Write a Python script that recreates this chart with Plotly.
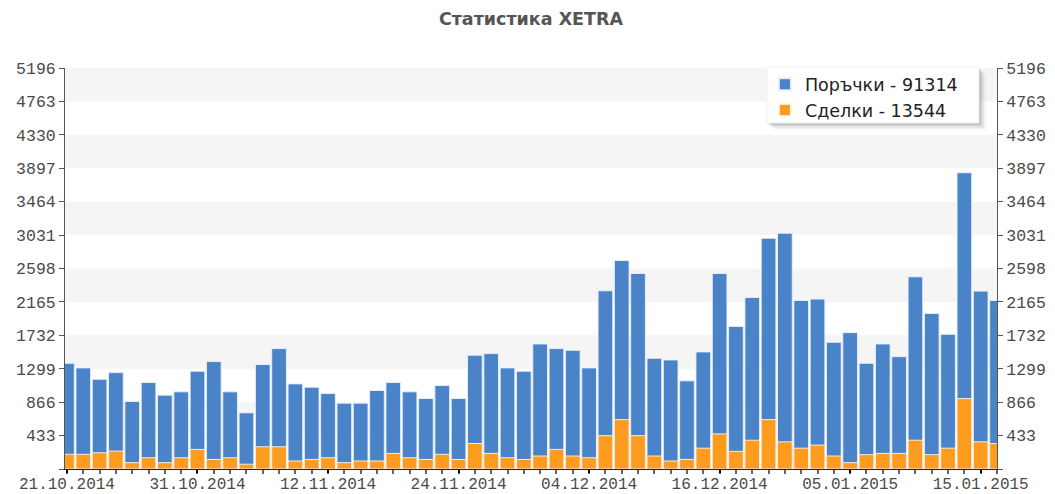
import plotly.graph_objects as go

dates = [
    "21.10.2014", "22.10.2014", "23.10.2014", "24.10.2014", "27.10.2014", "28.10.2014", "29.10.2014", "30.10.2014",
    "31.10.2014", "03.11.2014", "04.11.2014", "05.11.2014", "06.11.2014", "07.11.2014", "10.11.2014", "11.11.2014",
    "12.11.2014", "13.11.2014", "14.11.2014", "17.11.2014", "18.11.2014", "19.11.2014", "20.11.2014", "21.11.2014",
    "24.11.2014", "25.11.2014", "26.11.2014", "27.11.2014", "28.11.2014", "01.12.2014", "02.12.2014", "03.12.2014",
    "04.12.2014", "05.12.2014", "08.12.2014", "09.12.2014", "10.12.2014", "11.12.2014", "12.12.2014", "15.12.2014",
    "16.12.2014", "17.12.2014", "18.12.2014", "19.12.2014", "22.12.2014", "23.12.2014", "29.12.2014", "30.12.2014",
    "05.01.2015", "06.01.2015", "07.01.2015", "08.01.2015", "09.01.2015", "12.01.2015", "13.01.2015", "14.01.2015",
    "15.01.2015", "16.01.2015",
]

orders = [
    1370, 1310, 1163, 1249, 875, 1120, 957, 1000, 1267, 1392,
    1000, 728, 1353, 1560, 1103, 1060, 978, 853, 853, 1017,
    1120, 1000, 913, 1081, 913, 1474, 1495, 1310, 1267, 1620,
    1560, 1538, 1310, 2309, 2701, 2533, 1435, 1413, 1142, 1517,
    2533, 1848, 2223, 2990, 3055, 2184, 2202, 1642, 1767, 1370,
    1620, 1456, 2490, 2016, 1745, 3839, 2305, 2184,
]

deals = [
    190, 190, 210, 232, 82, 146, 82, 146, 254, 124,
    146, 62, 288, 288, 104, 124, 146, 82, 104, 104,
    202, 146, 124, 190, 124, 330, 202, 146, 124, 168,
    254, 168, 146, 432, 640, 432, 168, 104, 124, 270,
    455, 228, 373, 640, 352, 270, 310, 168, 82, 186,
    202, 202, 373, 186, 270, 912, 352, 330,
]

orders_total = 91314
deals_total = 13544

y_ticks = [433 * i for i in range(13)]
y_ticktext = ["" if v == 0 else str(v) for v in y_ticks]
label_idx = list(range(0, len(dates), 8))

x = list(range(len(dates)))

fig = go.Figure()
fig.add_trace(go.Bar(
    x=x, y=orders, name=f"Поръчки - {orders_total}",
    marker=dict(color="#4a83c8", line=dict(color="rgba(235,242,252,0.9)", width=1)),
    width=0.9,
))
fig.add_trace(go.Bar(
    x=x, y=deals, name=f"Сделки - {deals_total}",
    marker=dict(color="#fd9c1f", line=dict(color="rgba(255,245,230,0.9)", width=1)),
    width=0.9,
))

shapes = []
# alternating bands
for i in range(1, 13, 2):
    shapes.append(dict(type="rect", xref="paper", yref="y", x0=0, x1=1,
                       y0=y_ticks[i], y1=y_ticks[i + 1], fillcolor="#f5f5f5",
                       line=dict(width=0), layer="below"))
# legend box + shadow (paper coords; plot area 932 x 401 px)
lx0, lx1, ly0, ly1 = 0.753, 0.9807, 0.8628, 1.0025
for k, op in [(7, 0.04), (5, 0.06), (3, 0.09), (1.5, 0.12)]:
    shapes.append(dict(type="rect", xref="paper", yref="paper",
                       x0=lx0 + k / 932, x1=lx1 + k / 932,
                       y0=ly0 - k / 401, y1=ly1 - k / 401,
                       fillcolor=f"rgba(0,0,0,{op})", line=dict(width=0), layer="above"))
shapes.append(dict(type="rect", xref="paper", yref="paper",
                   x0=lx0, x1=lx1, y0=ly0, y1=ly1,
                   fillcolor="white", line=dict(color="#eeeeee", width=1), layer="above"))

tickfont = dict(family="Liberation Mono, Courier New, monospace", size=16.5, color="#4a4a4a")
xtickfont = dict(family="Liberation Mono, Courier New, monospace", size=16, color="#4a4a4a")

# page body has an 8px margin, so the figure is sized 8px smaller and top/left margins shifted
fig.update_layout(
    width=1047, height=486,
    margin=dict(l=57, r=58, t=60, b=25, autoexpand=False),
    paper_bgcolor="white", plot_bgcolor="white",
    barmode="overlay", bargap=0.1,
    title=dict(text="<b>Статистика XETRA</b>", x=0.4995, xanchor="center", y=0.978, yanchor="middle",
               font=dict(family="DejaVu Sans", size=17.5, color="#555555")),
    showlegend=True,
    legend=dict(x=0.751, y=1.004, xanchor="left", yanchor="top",
                bgcolor="rgba(0,0,0,0)", borderwidth=0,
                font=dict(family="DejaVu Sans", size=17.5, color="#222222"),
                itemsizing="constant", tracegroupgap=0),
    xaxis=dict(range=[-0.12, 57.0], tickmode="array", tickvals=label_idx,
               ticktext=[dates[i] for i in label_idx], ticks="outside", ticklen=3,
               tickcolor="#000000", tickwidth=2, showline=True, linecolor="#222222",
               linewidth=1, showgrid=False, zeroline=False, tickfont=xtickfont, automargin=False,
               minor=dict(dtick=1, tick0=0, ticks="outside", ticklen=4, tickcolor="#666666", showgrid=False)),
    yaxis=dict(range=[0, 5196], tickmode="array", tickvals=y_ticks, ticktext=y_ticktext,
               ticks="outside", ticklen=5, tickcolor="#555555", showline=True,
               linecolor="#555555", linewidth=1, showgrid=False, zeroline=False,
               tickfont=tickfont, automargin=False),
    yaxis2=dict(range=[0, 5196], overlaying="y", side="right", tickmode="array",
                tickvals=y_ticks, ticktext=y_ticktext, ticks="outside", ticklen=5,
                tickcolor="#555555", showline=True, linecolor="#555555", linewidth=1,
                showgrid=False, zeroline=False, tickfont=tickfont, automargin=False),
    shapes=shapes,
)
try:
    fig.update_xaxes(ticklabelstandoff=-3)
except Exception:
    pass

fig.add_trace(go.Scatter(x=[0], y=[0], yaxis="y2", mode="markers",
                         marker=dict(opacity=0), showlegend=False, hoverinfo="skip"))

fig.write_html("out.html")
